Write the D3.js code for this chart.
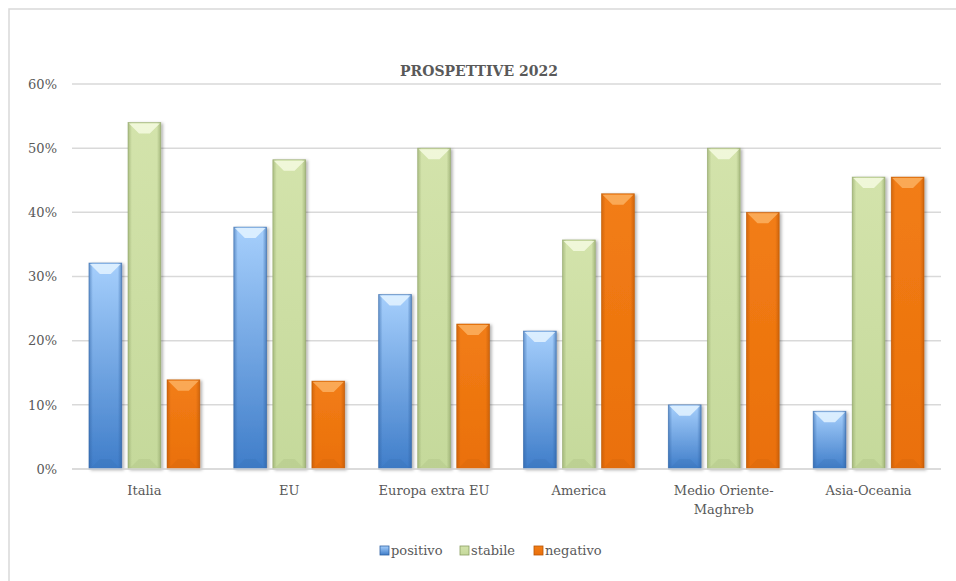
<!DOCTYPE html>
<html>
<head>
<meta charset="utf-8">
<script src="https://cdn.jsdelivr.net/npm/d3@7"></script>
<style>
  body { margin: 0; background: #fff; }
  svg { display: block; font-family: "DejaVu Serif", "Liberation Serif", serif; }
</style>
</head>
<body>
<svg width="956" height="581"></svg>
<script>
const categories = ["Italia", "EU", "Europa extra EU", "America", "Medio Oriente-\nMaghreb", "Asia-Oceania"];
const seriesNames = ["positivo", "stabile", "negativo"];
const positivo = [0.321, 0.377, 0.272, 0.215, 0.10, 0.09];
const stabile = [0.54, 0.482, 0.50, 0.357, 0.50, 0.455];
const negativo = [0.139, 0.137, 0.226, 0.429, 0.40, 0.455];
const yTicks = [0, 0.1, 0.2, 0.3, 0.4, 0.5, 0.6];

const textColor = "#595959";
const gridColor = "#d9d9d9";
const margin = { left: 72, right: 15, top: 84, bottom: 112 };
const width = 956, height = 581;

// per-series look: top colour, bottom colour, edge colour, bevel highlight
const looks = {
    positivo: { top: "#a6cffc", bottom: "#3f7dc9", edge: "#2f62a3", light: "#e4f3ff" },
    stabile:  { top: "#d3e3ab", bottom: "#c5d99b", edge: "#8a9e62", light: "#f4fae0" },
    negativo: { top: "#f27d15", bottom: "#ea700c", edge: "#b85505", light: "#fcb060" }
};

const svg = d3.select("svg");
const defs = svg.append("defs");

seriesNames.forEach(name => {
    const c = looks[name];
    const g = defs.append("linearGradient").attr("id", "fill-" + name)
        .attr("x1", 0).attr("y1", 0).attr("x2", 0).attr("y2", 1);
    g.append("stop").attr("offset", "0%").attr("stop-color", c.top);
    g.append("stop").attr("offset", "100%").attr("stop-color", c.bottom);
    const s = defs.append("linearGradient").attr("id", "side-" + name)
        .attr("x1", 0).attr("y1", 0).attr("x2", 1).attr("y2", 0);
    s.append("stop").attr("offset", "0%").attr("stop-color", c.edge).attr("stop-opacity", 0.55);
    s.append("stop").attr("offset", "12%").attr("stop-color", c.edge).attr("stop-opacity", 0);
    s.append("stop").attr("offset", "88%").attr("stop-color", c.edge).attr("stop-opacity", 0);
    s.append("stop").attr("offset", "100%").attr("stop-color", c.edge).attr("stop-opacity", 0.6);
});

const shadow = defs.append("filter").attr("id", "shadow")
    .attr("x", "-20%").attr("y", "-5%").attr("width", "150%").attr("height", "115%");
shadow.append("feDropShadow").attr("dx", 2).attr("dy", 1).attr("stdDeviation", 1.6)
    .attr("flood-color", "#000").attr("flood-opacity", 0.3);

// chart frame (left and top edge visible)
svg.append("path")
    .attr("d", `M9,${height} V9 H${width}`)
    .attr("fill", "none").attr("stroke", gridColor).attr("stroke-width", 1.5);

const x0 = d3.scaleBand(categories, [margin.left, width - margin.right])
    .paddingInner(0.2345).paddingOuter(0.117);
const x1 = d3.scaleBand(seriesNames, [0, x0.bandwidth()]).paddingInner(0.16);
const y = d3.scaleLinear([0, 0.6], [height - margin.bottom, margin.top]);

// gridlines
svg.append("g")
    .selectAll("line")
    .data(yTicks)
    .join("line")
    .attr("x1", margin.left).attr("x2", width - margin.right)
    .attr("y1", d => y(d)).attr("y2", d => y(d))
    .attr("stroke", gridColor).attr("stroke-width", 1.5);

// y axis labels
const yAxis = d3.axisLeft(y).tickValues(yTicks).tickFormat(d3.format(".0%")).tickSize(0).tickPadding(15);
svg.append("g")
    .attr("transform", `translate(${margin.left},0)`)
    .call(yAxis)
    .call(g => g.select(".domain").remove())
    .call(g => g.selectAll("text")
        .attr("fill", textColor).style("font-size", "13px")
        .style("font-family", "DejaVu Serif, serif"));

// x axis labels
const xLabels = svg.append("g")
    .selectAll("text")
    .data(categories)
    .join("text")
    .attr("x", d => x0(d) + x0.bandwidth() / 2)
    .attr("y", height - margin.bottom + 26)
    .attr("text-anchor", "middle")
    .attr("fill", textColor)
    .style("font-size", "13px");
xLabels.selectAll("tspan")
    .data(d => d.split("\n"))
    .join("tspan")
    .attr("x", function () { return d3.select(this.parentNode).attr("x"); })
    .attr("dy", (d, i) => i === 0 ? 0 : 19)
    .text(d => d);

// bars
const rows = categories.map((c, i) => ({
    category: c,
    values: [
        { key: "positivo", value: positivo[i] },
        { key: "stabile", value: stabile[i] },
        { key: "negativo", value: negativo[i] }
    ]
}));

const bar = svg.append("g")
    .selectAll("g")
    .data(rows)
    .join("g")
    .attr("transform", d => `translate(${x0(d.category)},0)`)
    .selectAll("g")
    .data(d => d.values)
    .join("g");

const bw = x1.bandwidth();
bar.append("rect")
    .attr("x", d => x1(d.key))
    .attr("y", d => y(d.value))
    .attr("width", bw)
    .attr("height", d => y(0) - y(d.value))
    .attr("fill", d => `url(#fill-${d.key})`)
    .attr("stroke", d => looks[d.key].edge)
    .attr("stroke-opacity", 0.6)
    .attr("stroke-width", 0.8)
    .attr("filter", "url(#shadow)");

bar.append("rect")
    .attr("x", d => x1(d.key))
    .attr("y", d => y(d.value))
    .attr("width", bw)
    .attr("height", d => y(0) - y(d.value))
    .attr("fill", d => `url(#side-${d.key})`);

// top bevel highlight: a V pointing down
bar.append("path")
    .attr("d", d => {
        const xl = x1(d.key), yt = y(d.value) + 1;
        return `M${xl + 1},${yt} L${xl + bw - 1},${yt} L${xl + bw - 11},${yt + 10} L${xl + 11},${yt + 10} Z`;
    })
    .attr("fill", d => looks[d.key].light)
    .attr("opacity", 0.85);

// bottom bevel shade
bar.append("path")
    .attr("d", d => {
        const xl = x1(d.key), yb = y(0);
        return `M${xl + 1},${yb} L${xl + bw - 1},${yb} L${xl + bw - 11},${yb - 10} L${xl + 11},${yb - 10} Z`;
    })
    .attr("fill", d => looks[d.key].edge)
    .attr("opacity", 0.15);

// bottom axis line on top of bars
svg.append("line")
    .attr("x1", margin.left).attr("x2", width - margin.right)
    .attr("y1", y(0)).attr("y2", y(0))
    .attr("stroke", gridColor).attr("stroke-width", 1.5);

// title
svg.append("text")
    .attr("x", 479).attr("y", 76)
    .attr("text-anchor", "middle")
    .attr("fill", textColor)
    .style("font-size", "14px")
    .style("font-weight", "bold")
    .text("PROSPETTIVE 2022");

// legend
const legendX = [380, 460, 534];
const legend = svg.append("g")
    .selectAll("g")
    .data(seriesNames)
    .join("g")
    .attr("transform", (d, i) => `translate(${legendX[i]},546)`);
legend.append("rect")
    .attr("width", 9).attr("height", 9)
    .attr("fill", d => `url(#fill-${d})`)
    .attr("stroke", d => looks[d].edge).attr("stroke-width", 0.8);
legend.append("text")
    .attr("x", 11).attr("y", 9)
    .attr("fill", textColor)
    .style("font-size", "13px")
    .text(d => d);
</script>
</body>
</html>
